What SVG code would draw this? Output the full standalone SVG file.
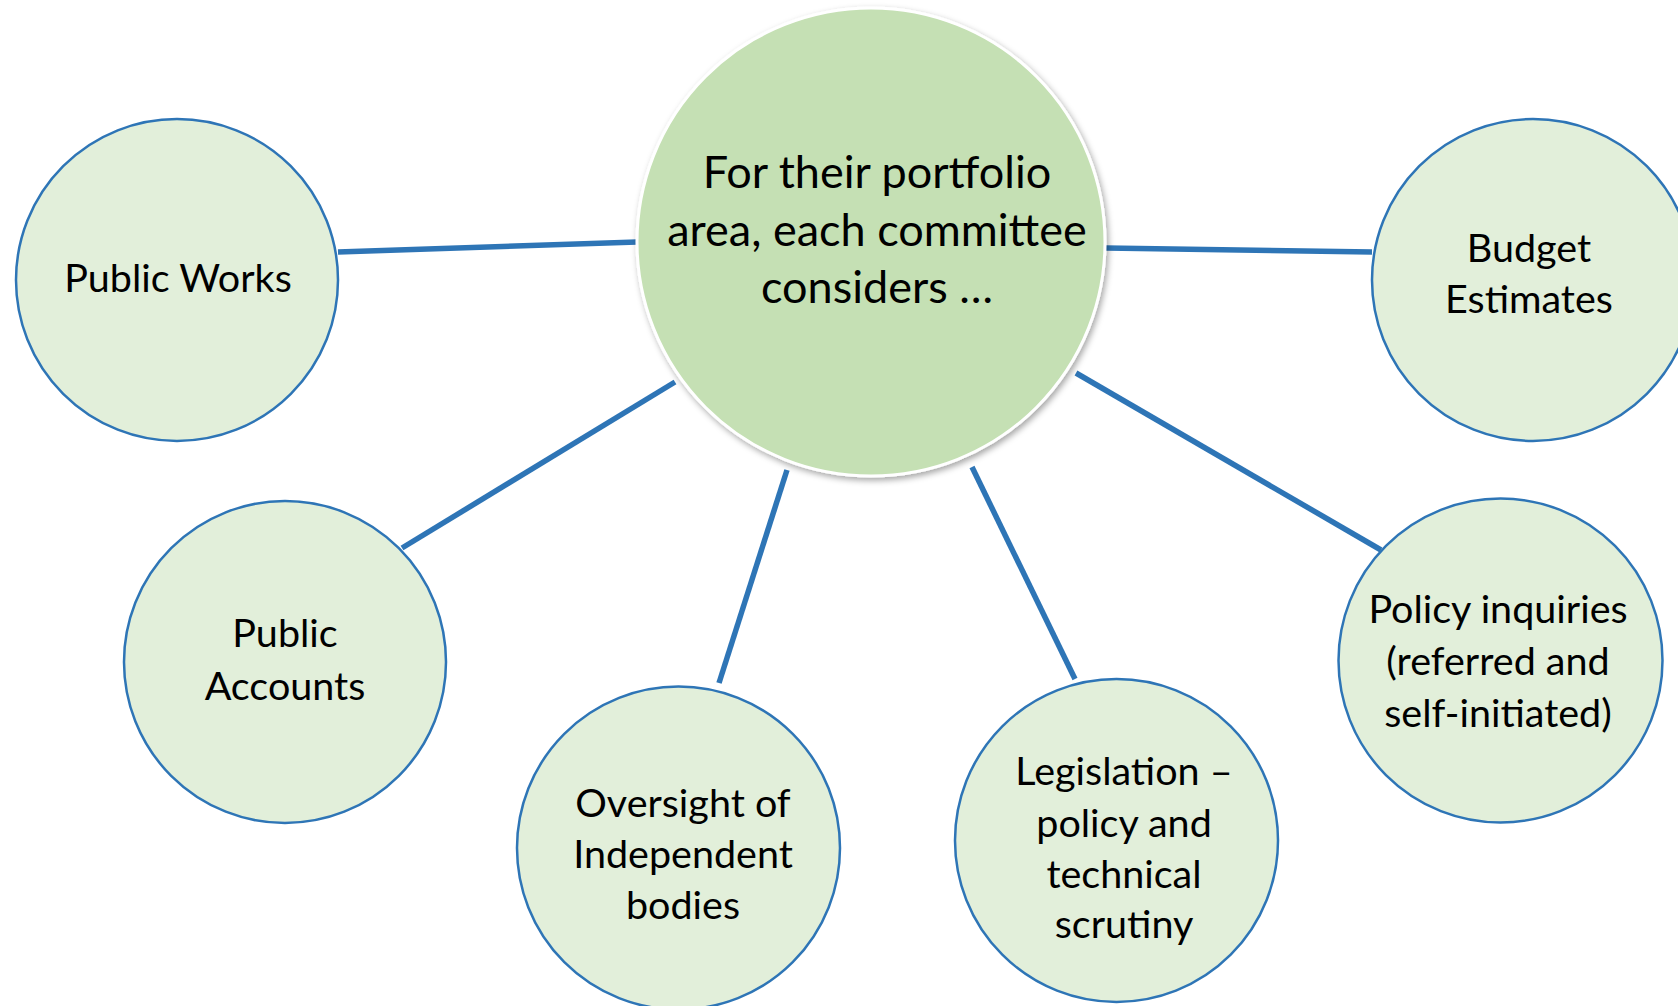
<svg xmlns="http://www.w3.org/2000/svg" width="1678" height="1006" viewBox="0 0 1678 1006">
<style>
.conn line{stroke:#2E75B6;stroke-width:5.5;stroke-linecap:butt}
.sat{fill:#E2EFDA;stroke:#2E75B6;stroke-width:2.5}
.hub{fill:#C5E0B4;stroke:#FFFFFF;stroke-width:3}
text{font-family:Lato,"Open Sans","Liberation Sans",sans-serif;fill:#000;text-anchor:middle}
.st{font-size:39.5px}
.ht{font-size:45px}
</style>
<defs>
<filter id="sh" x="-10%" y="-10%" width="125%" height="125%">
<feDropShadow dx="2" dy="3" stdDeviation="3" flood-color="#000" flood-opacity="0.35"/>
</filter>
</defs>
<rect width="1678" height="1006" fill="#FFFFFF"/>
<g id="connectors" class="conn">
<line x1="338" y1="252" x2="637" y2="242"/>
<line x1="1106" y1="248" x2="1372" y2="252"/>
<line x1="402" y1="548" x2="675" y2="382"/>
<line x1="719" y1="683" x2="787" y2="470"/>
<line x1="1075" y1="679" x2="972" y2="467"/>
<line x1="1381" y1="550" x2="1076" y2="373"/>
</g>
<g id="hub">
<circle class="hub" cx="871" cy="242" r="234" filter="url(#sh)"/>
<text class="ht" x="877" y="188">For their portfolio</text>
<text class="ht" x="877" y="246">area, each committee</text>
<text class="ht" x="877" y="303">considers …</text>
</g>
<g id="public-works">
<circle class="sat" cx="177" cy="280" r="161"/>
<text class="st" x="178" y="292">Public Works</text>
</g>
<g id="budget-estimates">
<circle class="sat" cx="1533" cy="280" r="161"/>
<text class="st" x="1529" y="262">Budget</text>
<text class="st" x="1529" y="313">Estimates</text>
</g>
<g id="public-accounts">
<circle class="sat" cx="285" cy="662" r="161"/>
<text class="st" x="285" y="647">Public</text>
<text class="st" x="285" y="700">Accounts</text>
</g>
<g id="oversight">
<circle class="sat" cx="678.5" cy="848" r="161.5"/>
<text class="st" x="683" y="817">Oversight of</text>
<text class="st" x="683" y="868">Independent</text>
<text class="st" x="683" y="919">bodies</text>
</g>
<g id="legislation">
<circle class="sat" cx="1116.5" cy="840.5" r="161.5"/>
<text class="st" x="1124" y="785">Legislation –</text>
<text class="st" x="1124" y="837">policy and</text>
<text class="st" x="1124" y="888">technical</text>
<text class="st" x="1124" y="938">scrutiny</text>
</g>
<g id="policy-inquiries">
<circle class="sat" cx="1500.5" cy="660.5" r="162"/>
<text class="st" x="1498" y="623">Policy inquiries</text>
<text class="st" x="1498" y="675">(referred and</text>
<text class="st" x="1498" y="727">self-initiated)</text>
</g>
</svg>
